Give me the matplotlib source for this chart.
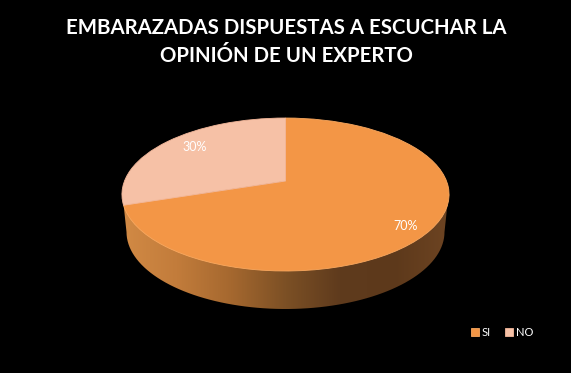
import numpy as np
import matplotlib
matplotlib.use("Agg")
import matplotlib.pyplot as plt
from matplotlib.colors import LinearSegmentedColormap
from matplotlib.patches import Polygon
from matplotlib.transforms import Transform

plt.rcParams['font.family'] = ['Lato', 'DejaVu Sans']

# Data
title = "EMBARAZADAS DISPUESTAS A ESCUCHAR LA\nOPINIÓN DE UN EXPERTO"
categories = ["SI", "NO"]
values = [70, 30]

# Colours
colors = ["#f39646", "#f6c1a6"]
edge_colors = ["#f9a85f", "#f3b79a"]
wall_colors = ["#d28a45", "#c27c3b", "#a5682f", "#7c5025", "#5f3b1d", "#5d391b", "#6d4422"]


# tilted disc seen in perspective, so the wedge tip sits above the ellipse middle
class Perspective(Transform):
    input_dims = 2
    output_dims = 2

    def __init__(self, cx, cy, sx, sy, k):
        super().__init__()
        self.cx, self.cy, self.sx, self.sy, self.k = cx, cy, sx, sy, k

    def transform_non_affine(self, xy):
        xy = np.asarray(xy)
        w = 1 + self.k * xy[:, 1]
        return np.column_stack([self.cx + self.sx * xy[:, 0] / w,
                                self.cy - self.sy * xy[:, 1] / w])


fig = plt.figure(figsize=(5.71, 3.73), dpi=100, facecolor="black")
ax = fig.add_axes([0, 0, 1, 1])

wedges, _ = ax.pie(values, startangle=90, counterclock=False, colors=colors)
persp = Perspective(285.5, 181, 161, 74.1, 0.1765)
for w, ec in zip(wedges, edge_colors):
    w.set_transform(persp + ax.transData)
    w.set_edgecolor(ec)
    w.set_linewidth(0.6)
    w.set_zorder(3)

# Side wall of the pie with its gradient
t = np.linspace(np.pi, 2 * np.pi, 80)
bottom = np.column_stack([285.5 + 159 * np.cos(t), 232 - 77 * np.sin(t)])
outline = np.vstack([[[122.5, 194.5]], bottom, [[448.5, 194.5]]])
wall = Polygon(outline, closed=True, transform=ax.transData, facecolor="none", edgecolor="none")
ax.add_patch(wall)
cmap = LinearSegmentedColormap.from_list("wall", wall_colors)
img = ax.imshow(np.linspace(0, 1, 256)[None, :], cmap=cmap, extent=(122, 449, 310, 190),
                aspect="auto", zorder=1)
img.set_clip_path(wall)

ax.set_aspect("auto")
ax.set_xlim(0, 571)
ax.set_ylim(373, 0)
ax.axis("off")

ax.text(286, 42, title, color="white", fontsize=14.7, fontweight="bold",
        ha="center", va="center", linespacing=1.45)

ax.text(406, 226, f"{values[0]}%", color="white", fontsize=9, ha="center", va="center", zorder=5)
ax.text(195, 147, f"{values[1]}%", color="white", fontsize=9, ha="center", va="center", zorder=5)

# Legend
leg = ax.legend(wedges, categories, ncol=2, frameon=False, loc="center left",
                bbox_to_anchor=(471 / 571, 1 - 332 / 373), fontsize=8, labelcolor="white",
                handlelength=0.75, handleheight=0.75, handletextpad=0.2, columnspacing=1.3,
                borderpad=0, borderaxespad=0)

fig.savefig("out.png", dpi=100, facecolor="black")
